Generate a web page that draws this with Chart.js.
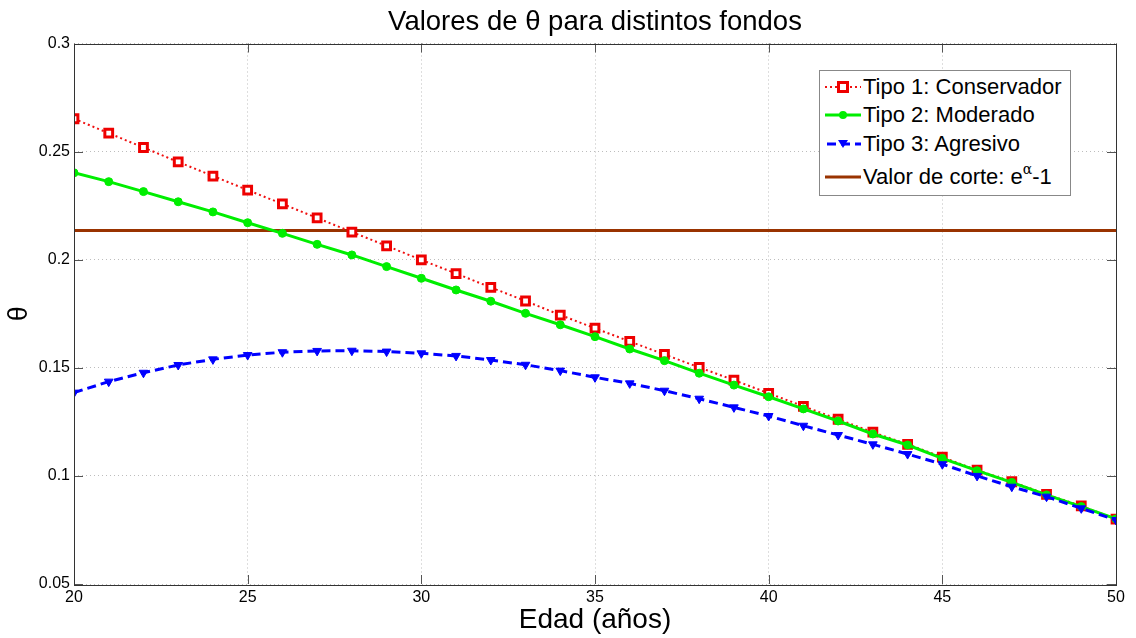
<!DOCTYPE html>
<html>
<head>
<meta charset="utf-8">
<script src="https://cdn.jsdelivr.net/npm/chart.js@4.4.1/dist/chart.umd.min.js"></script>
<style>
  body { margin: 0; background: #fff; }
  #wrap { position: relative; width: 1136px; height: 638px; }
  #legend {
    position: absolute; left: 819px; top: 70px; width: 250px; height: 124px;
    border: 1px solid #888; background: #fff;
    font-family: "Liberation Sans", Arial, sans-serif; font-size: 22px; color: #000;
  }
  .row { position: absolute; left: 0; height: 28px; display: flex; align-items: center; white-space: nowrap; }
  .row svg { margin-left: 5px; margin-right: 2px; }
  sup { font-size: 14px; vertical-align: 10px; line-height: 0; font-family: "DejaVu Serif", serif; }
</style>
</head>
<body>
<div id="wrap">
  <canvas id="c" width="1136" height="638"></canvas>
  <div id="legend"></div>
</div>
<script>
const edades = [20,21,22,23,24,25,26,27,28,29,30,31,32,33,34,35,36,37,38,39,40,41,42,43,44,45,46,47,48,49,50];
const tipo1 = [0.2652,0.2585,0.2519,0.2452,0.2387,0.2322,0.2258,0.2193,0.2128,0.2064,0.1999,0.1936,0.1872,0.1809,0.1744,0.1683,0.1622,0.1562,0.1502,0.1443,0.1382,0.1322,0.1262,0.1202,0.1146,0.1087,0.1027,0.0973,0.0915,0.0861,0.0800];
const tipo2 = [0.2402,0.2361,0.2315,0.2268,0.2221,0.2171,0.2122,0.2071,0.2022,0.1968,0.1914,0.1860,0.1808,0.1752,0.1699,0.1644,0.1587,0.1533,0.1475,0.1420,0.1366,0.1310,0.1254,0.1194,0.1143,0.1081,0.1024,0.0970,0.0912,0.0858,0.0801];
const tipo3 = [0.1385,0.1436,0.1477,0.1513,0.1539,0.1559,0.1572,0.1578,0.1579,0.1575,0.1567,0.1555,0.1536,0.1514,0.1487,0.1456,0.1428,0.1394,0.1357,0.1317,0.1277,0.1232,0.1189,0.1146,0.1101,0.1054,0.1000,0.0950,0.0904,0.0850,0.0796];
const valorCorte = 0.2135;
const xTicks = [20,25,30,35,40,45,50];
const yTicks = [0.05,0.1,0.15,0.2,0.25,0.3];

const labels = ['Tipo 1: Conservador','Tipo 2: Moderado','Tipo 3: Agresivo','Valor de corte: e<sup>α</sup>-1'];
const FONT = '"Liberation Sans", Arial, sans-serif';

function pts(ys){ return edades.map((x,i) => ({ x: x, y: ys[i] })); }

// caja y marcas hacia dentro, estilo matlab
const boxPlugin = {
  id: 'boxPlugin',
  beforeDraw(chart) {
    const ctx = chart.ctx;
    ctx.save();
    ctx.fillStyle = '#fff';
    ctx.fillRect(0, 0, chart.width, chart.height);
    ctx.restore();
  },
  afterDatasetsDraw(chart) {
    const a = chart.chartArea, ctx = chart.ctx;
    const xs = chart.scales.x, ys = chart.scales.y;
    ctx.save();
    ctx.strokeStyle = '#555';
    ctx.lineWidth = 1;
    ctx.beginPath();
    xTicks.forEach(v => {
      const px = Math.round(xs.getPixelForValue(v)) + 0.5;
      ctx.moveTo(px, a.bottom); ctx.lineTo(px, a.bottom - 9);
      ctx.moveTo(px, a.top); ctx.lineTo(px, a.top + 9);
    });
    yTicks.forEach(v => {
      const py = Math.round(ys.getPixelForValue(v)) + 0.5;
      ctx.moveTo(a.left, py); ctx.lineTo(a.left + 9, py);
      ctx.moveTo(a.right, py); ctx.lineTo(a.right - 9, py);
    });
    ctx.stroke();
    ctx.strokeStyle = '#333';
    ctx.strokeRect(Math.round(a.left) + 0.5, Math.round(a.top) + 0.5, Math.round(a.right - a.left), Math.round(a.bottom - a.top));
    ctx.restore();
  }
};

const ctx = document.getElementById('c').getContext('2d');
const chart = new Chart(ctx, {
  type: 'line',
  data: {
    datasets: [
      { label: 'Tipo 1', data: pts(tipo1), borderColor: '#f01010', borderWidth: 2, borderDash: [2,3],
        pointStyle: 'rect', pointRadius: 5.5, pointBorderWidth: 3, pointBorderColor: '#ee0000', pointBackgroundColor: '#fff', order: 3 },
      { label: 'Tipo 2', data: pts(tipo2), borderColor: '#00ee00', borderWidth: 3,
        pointStyle: 'circle', pointRadius: 4, pointBorderWidth: 1, pointBorderColor: '#00ee00', pointBackgroundColor: '#00ee00', order: 2 },
      { label: 'Tipo 3', data: pts(tipo3), borderColor: '#0000ff', borderWidth: 3, borderDash: [9,5],
        pointStyle: 'triangle', rotation: 180, pointRadius: 5, pointBorderWidth: 1, pointBorderColor: '#0000ff', pointBackgroundColor: '#0000ff', order: 1 },
      { label: 'Valor de corte', data: [{ x: edades[0], y: valorCorte }, { x: edades[edades.length-1], y: valorCorte }],
        borderColor: '#993300', borderWidth: 3, pointRadius: 0, order: 4 }
    ]
  },
  options: {
    responsive: false,
    animation: false,
    layout: { padding: { left: 0, right: 20, top: 0, bottom: 0 } },
    plugins: {
      legend: { display: false },
      tooltip: { enabled: false },
      title: {
        display: true, fullSize: false, text: 'Valores de θ para distintos fondos', color: '#000',
        font: { family: FONT, size: 27.5, weight: 'normal' }, padding: { top: 6, bottom: 4.5 }
      }
    },
    scales: {
      x: {
        type: 'linear', min: 20, max: 50,
        afterBuildTicks: s => { s.ticks = xTicks.map(v => ({ value: v })); },
        afterFit: s => { s.height = 54; },
        grid: { color: '#bdbdbd', drawTicks: false, lineWidth: 1 },
        border: { display: false, dash: [1,3] },
        ticks: { color: '#000', padding: 4, font: { family: FONT, size: 16 }, maxRotation: 0 },
        title: { display: true, text: 'Edad (años)', color: '#000', font: { family: FONT, size: 28 }, padding: { top: 0, bottom: 1 } }
      },
      y: {
        type: 'linear', min: 0.05, max: 0.3,
        afterBuildTicks: s => { s.ticks = yTicks.map(v => ({ value: v })); },
        afterFit: s => { s.width = 74; },
        grid: { color: '#bdbdbd', drawTicks: false, lineWidth: 1 },
        border: { display: false, dash: [1,3] },
        ticks: { color: '#000', padding: 4, font: { family: FONT, size: 16 },
          callback: v => String(Number(v.toFixed(2))) },
        title: { display: true, text: 'θ', color: '#000', font: { family: FONT, size: 27 }, padding: { top: 3, bottom: 6 } }
      }
    }
  },
  plugins: [boxPlugin]
});

// leyenda html dentro del area
const samples = [
  '<svg width="36" height="14"><line x1="0" y1="7" x2="36" y2="7" stroke="#f01010" stroke-width="2" stroke-dasharray="2,3"/><rect x="13.5" y="2.5" width="9" height="9" fill="#fff" stroke="#ee0000" stroke-width="3"/></svg>',
  '<svg width="36" height="14"><line x1="0" y1="7" x2="36" y2="7" stroke="#00ee00" stroke-width="3"/><circle cx="18" cy="7" r="4" fill="#00ee00"/></svg>',
  '<svg width="36" height="14"><line x1="0" y1="7" x2="36" y2="7" stroke="#0000ff" stroke-width="3" stroke-dasharray="9,5" stroke-dashoffset="-2"/><polygon points="13,3 23,3 18,11" fill="#0000ff"/></svg>',
  '<svg width="36" height="14"><line x1="0" y1="7" x2="36" y2="7" stroke="#993300" stroke-width="3"/></svg>'
];
const rowTops = [2, 30, 59, 92];
const legendEl = document.getElementById('legend');
legendEl.innerHTML = labels.map((l, i) =>
  `<div class="row" style="top:${rowTops[i]}px">${samples[i]}<span>${l}</span></div>`).join('');
</script>
</body>
</html>
